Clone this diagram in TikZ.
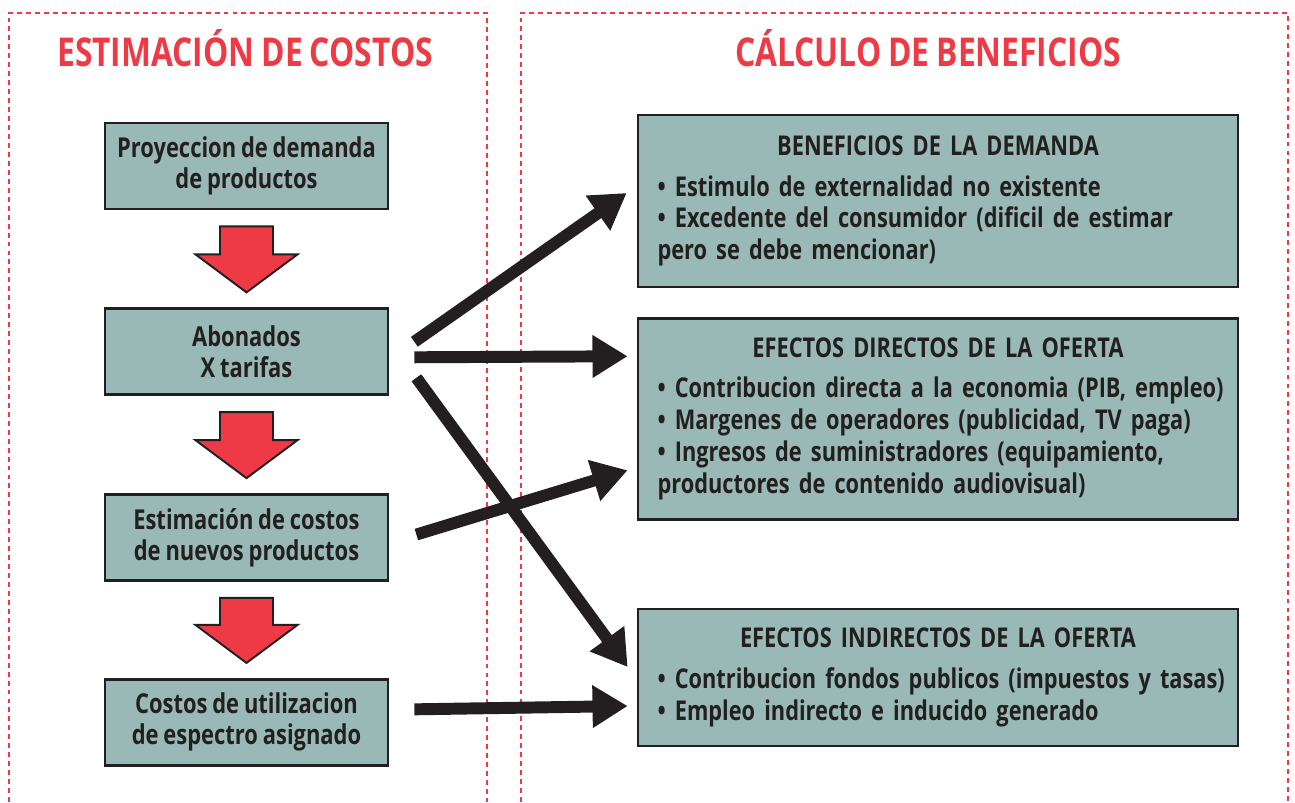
\documentclass[tikz,border=0pt]{standalone}
\usepackage{fontspec}
\setmainfont{Open Sans}[FakeStretch=0.8, WordSpace=0.85]
\usetikzlibrary{positioning, calc, arrows.meta}
\definecolor{boxfill}{HTML}{98B9B5}
\definecolor{inkdark}{HTML}{231F20}
\definecolor{titlered}{HTML}{EE3A45}
\tikzstyle{leftbox} = [rectangle,
minimum width=5.66cm,
minimum height=1.72cm,
align=center,
draw=inkdark, line width=1.6pt,
fill=boxfill, text=inkdark,
font=\bfseries\fontsize{15.6}{17.6}\selectfont]
\tikzstyle{rightbox} = [rectangle,
minimum width=12cm,
text width=11.7cm,
inner xsep=0.1cm,
draw=inkdark, line width=1.6pt,
fill=boxfill, text=inkdark,
font=\bfseries\fontsize{15.5}{18.2}\selectfont]
\tikzstyle{heading} = [text=titlered, font=\bfseries\fontsize{22.6}{27}\selectfont]
\tikzstyle{panel} = [titlered, line width=1.1pt, dash pattern=on 2.8pt off 2.3pt]
\tikzstyle{arrow} = [inkdark, line width=6.8pt, -{Triangle[length=20pt, width=23pt]}]
\tikzstyle{redarrow} = [fill=titlered, draw=inkdark, line width=1.1pt, line join=miter]

\begin{document}
\begin{tikzpicture}[x=0.02cm, y=-0.02cm]
\useasboundingbox (0,0) rectangle (1295,802);

% dotted frames of the two columns
\draw [panel] (9,802) -- (9,13) -- (487,13) -- (487,802);
\draw [panel] (521,802) -- (521,13) -- (1288,13) -- (1288,802);

\node (costos) [heading] at (245,48) {ESTIMACIÓN DE COSTOS};
\node (beneficios) [heading] at (928,48) {CÁLCULO DE BENEFICIOS};

% left column
\node (proy) [leftbox] at (246.5,166) {Proyeccion de demanda\\de productos};

\node (abon) [leftbox, below=1.94cm of proy] {Abonados\\X tarifas};

\node (estim) [leftbox, below=1.94cm of abon] {Estimación de costos\\de nuevos productos};

\node (util) [leftbox, below=1.92cm of estim] {Costos de utilizacion\\de espectro asignado};

% right column
\node (demanda) [rightbox, minimum height=3.44cm] at (938,201) {\centering BENEFICIOS DE LA DEMANDA\par\vspace{5pt}\raggedright\leftskip=0.24cm
• Estimulo de externalidad no existente\\
• Excedente del consumidor (dificil de estimar\\
pero se debe mencionar)\par};

\node (directos) [rightbox, minimum height=4.02cm, below=0.57cm of demanda] {\centering EFECTOS DIRECTOS DE LA OFERTA\par\vspace{5pt}\raggedright\leftskip=0.24cm
• Contribucion directa a la economia (PIB, empleo)\\
• Margenes de operadores (publicidad, TV paga)\\
• Ingresos de suministradores (equipamiento,\\
productores de contenido audiovisual)\par};

\node (indirectos) [rightbox, minimum height=2.74cm, below=1.74cm of directos] {\centering EFECTOS INDIRECTOS DE LA OFERTA\par\vspace{5pt}\raggedright\leftskip=0.24cm
• Contribucion fondos publicos (impuestos y tasas)\\
• Empleo indirecto e inducido generado\par};

% red block arrows
\foreach \a/\b in {proy/abon, abon/estim, estim/util}
  \draw [redarrow] ($(\a.south)+(-26.5,16)$) -- ($(\a.south)+(26.5,16)$)
    -- ($(\b.north)+(26.5,-53)$) -- ($(\b.north)+(51,-53)$)
    -- ($(\b.north)+(0,-15)$) -- ($(\b.north)+(-51,-53)$)
    -- ($(\b.north)+(-26.5,-53)$) -- cycle;

% black arrows
\draw [arrow] ($(abon.east)+(25,-10)$) -- ($(demanda.west)+(-10,-8)$);
\draw [arrow] ($(abon.east)+(25,5.5)$) -- ($(directos.west)+(-9,-62.5)$);
\draw [arrow] ($(abon.east)+(27,26)$) -- ($(indirectos.west)+(-9,-10.5)$);
\draw [arrow] ($(estim.east)+(27,-3)$) -- ($(directos.west)+(-9,51.5)$);
\draw [arrow] ($(util.east)+(25,-13)$) -- ($(indirectos.west)+(-9,28.5)$);

\end{tikzpicture}
\end{document}
